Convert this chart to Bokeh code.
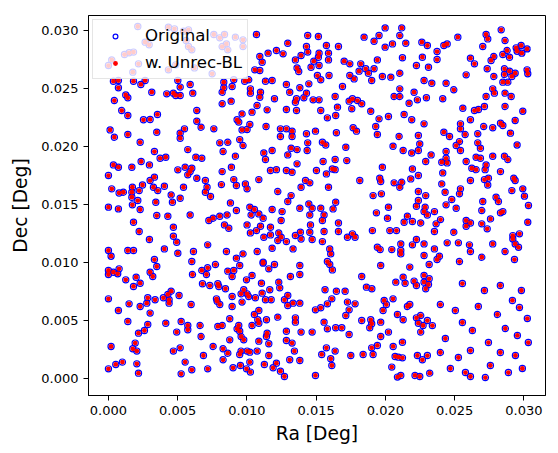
from bokeh.plotting import figure
from bokeh.models import Range1d, FixedTicker, PrintfTickFormatter, ColumnDataSource, Legend, LegendItem
from bokeh.embed import file_html
from bokeh.resources import INLINE

# (Ra, Dec) positions in degrees
pts_top_1 = [(0.00036,0.02562),(0.00072,0.02568),(0.00181,0.02562),(0.00234,0.02534),(0.00265,0.02568),(0.00501,0.02568),(0.00590,0.02534),(0.00072,0.02505),(0.00518,0.02511),(0.00313,0.02467),
 (0.00421,0.02453),(0.00469,0.02459),(0.00486,0.02439),(0.00518,0.02439),(0.00609,0.02459),(0.00125,0.02444),(0.00140,0.02419),(0.00043,0.02395),(0.00096,0.02309),(0.00638,0.02309),
 (0.00140,0.02266),(0.00253,0.02229),(0.00301,0.02232),(0.00354,0.02275),(0.00638,0.02217),(0.00669,0.02165),(0.00012,0.02142),(0.00043,0.02079),(0.00140,0.02102),(0.00349,0.02122),
 (0.00518,0.02114),(0.00549,0.02151),
 (0.00000,0.02697),(0.00024,0.02746),(0.00116,0.02792),(0.00149,0.02807),(0.00181,0.02813),(0.00217,0.02712),(0.00176,0.02640),(0.00212,0.03034),(0.00265,0.02899),(0.00294,0.02876),
 (0.00433,0.03028),(0.00477,0.03014),(0.00542,0.02994),(0.00578,0.03005),(0.00561,0.02913),(0.00578,0.02861),(0.00602,0.02833),(0.00433,0.02660),(0.00486,0.02703),(0.00621,0.02677)]

pts_top_2 = [(0.00761,0.02965),(0.00804,0.02936),(0.00838,0.02965),(0.00852,0.02884),(0.00821,0.02861),(0.00862,0.02833),(0.00917,0.02942),(0.00972,0.02919),(0.00972,0.02861),(0.00749,0.02626),
 (0.01069,0.02965),(0.01295,0.02890),(0.01439,0.02956),(0.01430,0.02861),(0.01093,0.02775),(0.01110,0.02726),(0.01153,0.02804),(0.01213,0.02827),(0.01261,0.02798),(0.01350,0.02746),
 (0.01391,0.02784),(0.01439,0.02813),(0.01483,0.02735),(0.01374,0.02646),(0.01362,0.02677),(0.01463,0.02683),(0.01057,0.02660),(0.01093,0.02654),(0.00833,0.02554),(0.00905,0.02574),
 (0.00833,0.02505),(0.00893,0.02516),(0.00821,0.02467),(0.00984,0.02562),(0.01013,0.02574),(0.01134,0.02562),(0.01182,0.02568),(0.01285,0.02534),(0.01382,0.02505),(0.01447,0.02539),
 (0.01025,0.02496),(0.01025,0.02459),(0.01098,0.02467),(0.01309,0.02467),(0.01430,0.02459),(0.01478,0.02401),(0.01411,0.02419),(0.01358,0.02410),(0.01350,0.02381),(0.01199,0.02410),
 (0.01093,0.02424),(0.00821,0.02367),(0.00886,0.02390),(0.01073,0.02352),(0.01037,0.02295),(0.01146,0.02315),(0.01285,0.02318),(0.01358,0.02309),(0.00965,0.02280),(0.00929,0.02229),
 (0.00941,0.02209),(0.01021,0.02188),(0.01138,0.02171),(0.01001,0.02145),(0.00965,0.02142),(0.00761,0.02151),(0.01242,0.02151),(0.01285,0.02151),(0.01326,0.02131),(0.01242,0.02085),
 (0.01326,0.02085),(0.01430,0.02108),(0.01495,0.02131)]

pts_top_3 = [(0.01516,0.02948),(0.01998,0.03022),(0.02118,0.03022),(0.01846,0.02942),(0.01954,0.02956),(0.02104,0.02956),(0.01918,0.02907),(0.01661,0.02861),(0.01574,0.02870),(0.01998,0.02856),
 (0.02051,0.02884),(0.02147,0.02890),(0.02263,0.02899),(0.02303,0.02870),(0.01521,0.02804),(0.01589,0.02804),(0.01516,0.02769),(0.01589,0.02746),(0.01702,0.02735),(0.01743,0.02712),
 (0.01822,0.02712),(0.01858,0.02669),(0.01810,0.02649),(0.01918,0.02669),(0.01877,0.02631),(0.01942,0.02746),(0.02123,0.02764),(0.02224,0.02697),(0.02267,0.02769),(0.02311,0.02683),
 (0.01521,0.02697),(0.01509,0.02611),(0.01533,0.02574),(0.01593,0.02611),(0.01743,0.02611),(0.01774,0.02582),(0.01901,0.02568),(0.01978,0.02603),(0.02039,0.02597),(0.02104,0.02631),
 (0.02279,0.02568),(0.01690,0.02516),(0.02104,0.02496),(0.02207,0.02467),(0.02296,0.02419),(0.02063,0.02430),(0.02104,0.02430),(0.01637,0.02430),(0.01762,0.02410),(0.01738,0.02390),
 (0.01798,0.02395),(0.01829,0.02367),(0.01521,0.02401),(0.02171,0.02372),(0.02231,0.02401),(0.01654,0.02338),(0.01757,0.02324),(0.01533,0.02309),(0.01894,0.02303),(0.01581,0.02246),
 (0.01641,0.02266),(0.01954,0.02237),(0.02022,0.02257),(0.02135,0.02275),(0.02190,0.02229),(0.02279,0.02194),(0.01930,0.02171),(0.01767,0.02160),(0.01791,0.02131),(0.01646,0.02117),
 (0.01942,0.02102),(0.02099,0.02085),(0.02238,0.02093)]

pts_top_4 = [(0.02836,0.03005),(0.02523,0.02942),(0.02727,0.02965),(0.02739,0.02927),(0.02864,0.02913),(0.02446,0.02884),(0.02422,0.02870),(0.02703,0.02861),(0.02373,0.02818),(0.02373,0.02749),
 (0.02614,0.02761),(0.02643,0.02712),(0.02763,0.02741),(0.02783,0.02775),(0.02848,0.02792),(0.02879,0.02827),(0.02896,0.02769),(0.02944,0.02850),(0.02951,0.02821),(0.02985,0.02804),
 (0.02980,0.02870),(0.03023,0.02841),(0.02735,0.02669),(0.02860,0.02669),(0.02896,0.02649),(0.02860,0.02620),(0.02937,0.02631),(0.02913,0.02603),(0.03023,0.02660),(0.03028,0.02626),
 (0.02583,0.02617),(0.02783,0.02603),(0.02335,0.02545),(0.02438,0.02545),(0.02494,0.02488),(0.02848,0.02554),(0.02884,0.02554),(0.02775,0.02496),(0.02787,0.02459),(0.02727,0.02430),
 (0.02864,0.02459),(0.02908,0.02430),(0.02414,0.02410),(0.02559,0.02329),(0.02643,0.02309),(0.02672,0.02318),(0.02715,0.02344),(0.02864,0.02344),(0.02992,0.02303),(0.02614,0.02229),
 (0.02542,0.02194),(0.02542,0.02151),(0.02710,0.02171),(0.02775,0.02160),(0.02831,0.02200),(0.02848,0.02180),(0.02937,0.02223),(0.02422,0.02122),(0.02463,0.02085),(0.02576,0.02102),
 (0.02667,0.02108),(0.02903,0.02114)]

pts_mid_1 = [(0.00518,0.02070),(0.00229,0.02035),(0.00332,0.01955),(0.00573,0.01972),(0.00373,0.01897),(0.00414,0.01906),(0.00631,0.01906),(0.00674,0.01897),(0.00036,0.01840),(0.00072,0.01820),
 (0.00169,0.01820),(0.00236,0.01869),(0.00296,0.01840),(0.00501,0.01797),(0.00554,0.01820),(0.00602,0.01811),(0.00590,0.01782),(0.00573,0.01754),(0.00638,0.01725),(0.00000,0.01748),
 (0.00332,0.01734),(0.00301,0.01705),(0.00246,0.01667),(0.00024,0.01633),(0.00077,0.01598),(0.00108,0.01604),(0.00173,0.01647),(0.00169,0.01604),(0.00222,0.01618),(0.00325,0.01647),
 (0.00356,0.01618),(0.00404,0.01656),(0.00542,0.01647),(0.00169,0.01561),(0.00212,0.01532),(0.00173,0.01495),(0.00342,0.01518),(0.00453,0.01581),(0.00462,0.01518),(0.00518,0.01552),
 (0.00000,0.01475),(0.00072,0.01460),(0.00229,0.01455),(0.00349,0.01403),(0.00429,0.01397),(0.00590,0.01408),(0.00181,0.01345),(0.00469,0.01302),(0.00222,0.01265),(0.00469,0.01224),
 (0.00296,0.01196),(0.00493,0.01173),(0.00000,0.01101),(0.00019,0.01052),(0.00140,0.01101),(0.00181,0.01101),(0.00404,0.01115),(0.00501,0.01078),(0.00614,0.01092),(0.00332,0.01023),
 (0.00602,0.01006)]

pts_mid_2 = [(0.00804,0.02030),(0.00862,0.02035),(0.00828,0.01955),(0.00948,0.02058),(0.00972,0.02007),(0.00917,0.01915),(0.01439,0.02030),(0.01435,0.01964),(0.01122,0.01943),(0.01134,0.01886),
 (0.01182,0.01964),(0.01295,0.01926),(0.01319,0.01984),(0.01362,0.01972),(0.00888,0.01820),(0.00821,0.01782),(0.01170,0.01791),(0.01213,0.01799),(0.01285,0.01791),(0.01326,0.01777),
 (0.01362,0.01849),(0.01502,0.01791),(0.00700,0.01705),(0.00712,0.01647),(0.00700,0.01604),(0.00737,0.01567),(0.00816,0.01670),(0.00905,0.01713),(0.00924,0.01662),(0.00989,0.01676),
 (0.01001,0.01633),(0.01086,0.01713),(0.01223,0.01610),(0.01319,0.01575),(0.01391,0.01647),(0.01423,0.01705),(0.01454,0.01685),(0.00881,0.01512),(0.00924,0.01446),(0.01021,0.01475),
 (0.01054,0.01455),(0.01030,0.01408),(0.01086,0.01417),(0.01117,0.01380),(0.01182,0.01455),(0.01254,0.01437),(0.01295,0.01524),(0.01382,0.01466),(0.01447,0.01503),(0.01471,0.01466),
 (0.01454,0.01408),(0.00725,0.01360),(0.00756,0.01380),(0.00804,0.01397),(0.00857,0.01408),(0.00838,0.01322),(0.00869,0.01293),(0.01001,0.01322),(0.01025,0.01253),(0.01069,0.01273),
 (0.01098,0.01311),(0.01170,0.01302),(0.01170,0.01236),(0.01122,0.01216),(0.01247,0.01360),(0.01230,0.01253),(0.01247,0.01216),(0.01223,0.01187),(0.01285,0.01178),(0.01350,0.01230),
 (0.01386,0.01259),(0.01459,0.01322),(0.01454,0.01259),(0.01391,0.01201),(0.01471,0.01196),(0.00717,0.01150),(0.00852,0.01092),(0.00924,0.01035),(0.00972,0.01072),(0.01074,0.01092),
 (0.01182,0.01121),(0.01333,0.01115),(0.01117,0.01000)]

pts_mid_3 = [(0.01545,0.02035),(0.01569,0.02012),(0.01714,0.01992),(0.02055,0.02001),(0.02248,0.02021),(0.02128,0.01964),(0.02190,0.01943),(0.02238,0.01964),(0.02291,0.01869),(0.01550,0.01869),
 (0.01637,0.01886),(0.01721,0.01877),(0.01574,0.01762),(0.01617,0.01805),(0.01637,0.01799),(0.01589,0.01647),(0.01815,0.01705),(0.01978,0.01820),(0.01959,0.01725),(0.01966,0.01696),
 (0.02063,0.01685),(0.02118,0.01690),(0.02104,0.01647),(0.02183,0.01719),(0.02195,0.01805),(0.02238,0.01748),(0.01911,0.01575),(0.01971,0.01590),(0.02238,0.01610),(0.02238,0.01532),
 (0.02291,0.01575),(0.01641,0.01518),(0.01622,0.01460),(0.01533,0.01466),(0.01557,0.01408),(0.01545,0.01360),(0.01661,0.01339),(0.02022,0.01475),(0.01935,0.01426),(0.02015,0.01380),
 (0.02159,0.01397),(0.02135,0.01345),(0.02195,0.01351),(0.02255,0.01339),(0.02224,0.01483),(0.02287,0.01475),(0.02279,0.01437),(0.02303,0.01408),(0.01557,0.01265),(0.01661,0.01265),
 (0.01726,0.01216),(0.01762,0.01245),(0.01781,0.01216),(0.01906,0.01273),(0.02032,0.01273),(0.02080,0.01273),(0.01545,0.01178),(0.01598,0.01115),(0.01605,0.01072),(0.01581,0.01006),
 (0.02111,0.01158),(0.02111,0.01101),(0.02111,0.01072),(0.02195,0.01150),(0.02224,0.01196),(0.02279,0.01158),(0.02279,0.01058),(0.01942,0.01129),(0.01962,0.01109),(0.02046,0.01109)]

pts_mid_4 = [(0.02535,0.02041),(0.02667,0.02030),(0.02511,0.02007),(0.02542,0.01964),(0.02686,0.01984),(0.02951,0.02012),(0.02330,0.01926),(0.02438,0.01955),(0.02438,0.01897),(0.02407,0.01863),
 (0.02446,0.01857),(0.02583,0.01869),(0.02655,0.01906),(0.02686,0.01897),(0.02775,0.01915),(0.02860,0.01915),(0.02884,0.01886),(0.02624,0.01811),(0.02655,0.01799),(0.02720,0.01799),
 (0.02727,0.01840),(0.02831,0.01782),(0.02414,0.01771),(0.02614,0.01705),(0.02715,0.01713),(0.02744,0.01725),(0.02739,0.01667),(0.02927,0.01725),(0.02937,0.01705),(0.02407,0.01676),
 (0.02431,0.01604),(0.02542,0.01633),(0.02535,0.01590),(0.02479,0.01541),(0.02913,0.01618),(0.02992,0.01633),(0.03004,0.01570),(0.03033,0.01489),(0.02799,0.01561),(0.02816,0.01524),
 (0.02703,0.01524),(0.02438,0.01495),(0.02511,0.01466),(0.02354,0.01437),(0.02696,0.01446),(0.02831,0.01426),(0.02848,0.01437),(0.02398,0.01368),(0.02366,0.01331),(0.02583,0.01360),
 (0.02614,0.01339),(0.02583,0.01311),(0.02696,0.01331),(0.02759,0.01374),(0.02735,0.01288),(0.02354,0.01265),(0.02494,0.01259),(0.02920,0.01230),(0.02968,0.01245),(0.03028,0.01345),
 (0.02446,0.01167),(0.02527,0.01167),(0.02607,0.01150),(0.02614,0.01092),(0.02775,0.01158),(0.02937,0.01158),(0.02961,0.01129),(0.02920,0.01201),(0.02354,0.01115),(0.02390,0.01052),
 (0.02373,0.01023),(0.02535,0.01006),(0.02696,0.01043),(0.02864,0.01092),(0.02932,0.01023)]

pts_low_1 = [(0.00000,0.00929),(0.00036,0.00914),(0.00077,0.00943),(0.00000,0.00894),(0.00067,0.00900),(0.00125,0.00848),(0.00200,0.00871),(0.00229,0.00819),(0.00181,0.00791),(0.00301,0.00914),
 (0.00320,0.00877),(0.00349,0.00963),(0.00607,0.00894),(0.00674,0.00929),(0.00679,0.00814),(0.00000,0.00684),(0.00149,0.00641),(0.00229,0.00618),(0.00277,0.00647),(0.00284,0.00693),
 (0.00337,0.00676),(0.00397,0.00693),(0.00438,0.00676),(0.00429,0.00722),(0.00453,0.00750),(0.00510,0.00713),(0.00438,0.00647),(0.00597,0.00635),(0.00072,0.00584),(0.00301,0.00561),
 (0.00140,0.00489),(0.00284,0.00463),(0.00217,0.00388),(0.00260,0.00411),(0.00414,0.00474),(0.00525,0.00489),(0.00573,0.00454),(0.00573,0.00417),(0.00493,0.00397),(0.00662,0.00454),
 (0.00669,0.00359),(0.00193,0.00302),(0.00176,0.00253),(0.00205,0.00233),(0.00019,0.00273),(0.00469,0.00233),(0.00518,0.00261),(0.00554,0.00138),(0.00602,0.00072),(0.00686,0.00195),
 (0.00000,0.00080),(0.00053,0.00118),(0.00101,0.00138),(0.00205,0.00123),(0.00217,0.00043),(0.00525,0.00037)]

pts_low_2 = [(0.00773,0.00980),(0.00948,0.00972),(0.00708,0.00894),(0.00717,0.00952),(0.00862,0.00923),(0.00905,0.00929),(0.00893,0.00877),(0.00997,0.00848),(0.01037,0.00886),(0.01117,0.00992),
 (0.01199,0.00980),(0.01158,0.00943),(0.01382,0.00972),(0.01382,0.00894),(0.01314,0.00877),(0.00732,0.00799),(0.00790,0.00814),(0.00797,0.00791),(0.00845,0.00771),(0.00977,0.00762),
 (0.00958,0.00727),(0.01001,0.00727),(0.01013,0.00704),(0.01105,0.00819),(0.01230,0.00828),(0.01237,0.00779),(0.01110,0.00733),(0.01165,0.00762),(0.01061,0.00693),(0.00893,0.00704),
 (0.00780,0.00684),(0.00785,0.00664),(0.00804,0.00635),(0.00893,0.00618),(0.00965,0.00656),(0.01134,0.00676),(0.01175,0.00676),(0.01271,0.00676),(0.01295,0.00713),(0.01295,0.00627),
 (0.01333,0.00647),(0.01382,0.00647),(0.01495,0.00589),(0.01086,0.00584),(0.01054,0.00549),(0.01078,0.00503),(0.01086,0.00474),(0.01141,0.00503),(0.01223,0.00526),(0.01350,0.00520),
 (0.01350,0.00483),(0.00876,0.00512),(0.00790,0.00446),(0.00821,0.00454),(0.00941,0.00454),(0.00929,0.00425),(0.00948,0.00405),(0.01037,0.00454),(0.01146,0.00388),(0.01141,0.00359),
 (0.01285,0.00405),(0.01391,0.00397),(0.01471,0.00397),(0.00876,0.00330),(0.00958,0.00359),(0.00977,0.00330),(0.01086,0.00319),(0.01158,0.00296),(0.01285,0.00325),(0.01326,0.00302),
 (0.00756,0.00273),(0.00828,0.00253),(0.00862,0.00215),(0.00948,0.00204),(0.00958,0.00233),(0.01001,0.00233),(0.01021,0.00224),(0.01074,0.00233),(0.01343,0.00233),(0.01158,0.00195),
 (0.00828,0.00158),(0.01021,0.00138),(0.01126,0.00118),(0.01213,0.00129),(0.01309,0.00158),(0.01382,0.00152),(0.00717,0.00080),(0.00900,0.00089),(0.00953,0.00109),(0.00997,0.00080),
 (0.01025,0.00052),(0.01189,0.00089),(0.01242,0.00060),(0.01271,0.00014),(0.01495,0.00023)]

pts_low_3 = [(0.01598,0.00980),(0.01617,0.00934),(0.01966,0.00972),(0.02176,0.00958),(0.02316,0.00980),(0.01829,0.00877),(0.01863,0.00785),(0.01902,0.00771),(0.02075,0.00828),(0.02128,0.00871),
 (0.02142,0.00819),(0.02207,0.00837),(0.02224,0.00799),(0.02279,0.00886),(0.02279,0.00828),(0.02316,0.00857),(0.02311,0.00808),(0.02291,0.00771),(0.01564,0.00762),(0.01646,0.00750),
 (0.01709,0.00750),(0.01613,0.00684),(0.01581,0.00641),(0.01726,0.00656),(0.01781,0.00641),(0.01738,0.00589),(0.01714,0.00540),(0.01533,0.00607),(0.01991,0.00670),(0.02007,0.00635),
 (0.02055,0.00684),(0.01983,0.00584),(0.02159,0.00618),(0.02176,0.00635),(0.02087,0.00549),(0.02128,0.00503),(0.02224,0.00520),(0.02255,0.00540),(0.02238,0.00474),(0.02272,0.00454),
 (0.02303,0.00497),(0.01829,0.00497),(0.01894,0.00503),(0.01901,0.00469),(0.01887,0.00434),(0.01966,0.00483),(0.01557,0.00483),(0.01581,0.00425),(0.01641,0.00434),(0.01685,0.00434),
 (0.01738,0.00377),(0.01966,0.00359),(0.02022,0.00397),(0.02255,0.00397),(0.02123,0.00310),(0.02056,0.00273),(0.01942,0.00282),(0.01901,0.00261),(0.01911,0.00204),(0.01574,0.00261),
 (0.01637,0.00233),(0.01540,0.00204),(0.01605,0.00167),(0.01613,0.00109),(0.01750,0.00195),(0.01839,0.00204),(0.02070,0.00187),(0.02094,0.00181),(0.02123,0.00175),(0.02231,0.00195),
 (0.02267,0.00158),(0.02303,0.00195),(0.02046,0.00095),(0.02087,0.00009),(0.02111,0.00023),(0.02214,0.00023),(0.02248,0.00014),(0.02320,0.00043)]

pts_low_4 = [(0.02556,0.00816),(0.02715,0.00756),(0.02830,0.00799),(0.02982,0.00756),(0.02917,0.00670),(0.02397,0.00635),(0.02505,0.00583),(0.02671,0.00618),(0.02809,0.00549),(0.02968,0.00609),
 (0.03025,0.00514),(0.02339,0.00453),(0.02556,0.00480),(0.02628,0.00411),(0.02866,0.00428),(0.02953,0.00368),(0.02433,0.00342),(0.02744,0.00307),(0.03032,0.00307),(0.02397,0.00221),
 (0.02527,0.00178),(0.02614,0.00238),(0.02830,0.00221),(0.02939,0.00195),(0.02469,0.00083),(0.02578,0.00048),(0.02758,0.00109),(0.02888,0.00048),(0.02989,0.00083),(0.02722,0.00005),
 (0.02614,0.00014)]

regions = [pts_top_1, pts_top_2, pts_top_3, pts_top_4,
           pts_mid_1, pts_mid_2, pts_mid_3, pts_mid_4,
           pts_low_1, pts_low_2, pts_low_3, pts_low_4]

ra_orig = [pt[0] for reg in regions for pt in reg]
dec_orig = [pt[1] for reg in regions for pt in reg]
# the unrecognised-baseline positions coincide with the originals within reading precision
ra_unrec = list(ra_orig)
dec_unrec = list(dec_orig)

tick_values = [0.000, 0.005, 0.010, 0.015, 0.020, 0.025, 0.030]

FONT = "DejaVu Sans"

p = figure(width=558, height=453, output_backend="svg", toolbar_location=None,
           x_range=Range1d(-0.00144, 0.03156), y_range=Range1d(-0.00150, 0.03129),
           min_border_left=88, min_border_right=13, min_border_top=15, min_border_bottom=58,
           background_fill_color="white", border_fill_color="white")

p.xgrid.visible = False
p.ygrid.visible = False
p.outline_line_color = "black"
p.outline_line_width = 1
p.outline_line_alpha = 1

for ax, lbl in ((p.xaxis, "Ra [Deg]"), (p.yaxis, "Dec [Deg]")):
    ax.ticker = FixedTicker(ticks=tick_values)
    ax.formatter = PrintfTickFormatter(format="%.3f")
    ax.axis_label = lbl
    ax.axis_label_text_font = FONT
    ax.axis_label_text_font_size = "18.7px"
    ax.axis_label_text_font_style = "normal"
    ax.axis_label_text_color = "black"
    ax.major_label_text_font = FONT
    ax.major_label_text_font_size = "13px"
    ax.major_label_text_color = "black"
    ax.major_tick_in = 0
    ax.major_tick_out = 5
    ax.major_tick_line_color = "black"
    ax.minor_tick_in = 0
    ax.minor_tick_out = 0
    ax.axis_line_color = "black"
    ax.major_label_standoff = 5

p.xaxis.axis_label_standoff = 5
p.yaxis.axis_label_standoff = 7

src_o = ColumnDataSource(dict(x=ra_orig, y=dec_orig))
src_u = ColumnDataSource(dict(x=ra_unrec, y=dec_unrec))

r_o = p.scatter("x", "y", source=src_o, marker="circle", size=6.2, fill_color=None,
                line_color="#0000ff", line_width=1.2)
r_u = p.scatter("x", "y", source=src_u, marker="circle", size=4.8, fill_color="#ff0000",
                line_color=None)

legend = Legend(items=[LegendItem(label="Original", renderers=[r_o]),
                       LegendItem(label="w. Unrec-BL", renderers=[r_u])],
                location="top_left")
legend.label_text_font = FONT
legend.label_text_font_size = "16.6px"
legend.label_text_color = "black"
legend.padding = 5
legend.spacing = 6
legend.margin = 4
legend.glyph_width = 34
legend.glyph_height = 12
legend.label_height = 21
legend.label_standoff = 13
legend.border_line_color = "#cccccc"
legend.border_line_width = 1
legend.background_fill_color = "white"
legend.background_fill_alpha = 0.8
p.add_layout(legend)

open("out.html", "w").write(file_html(p, INLINE))
